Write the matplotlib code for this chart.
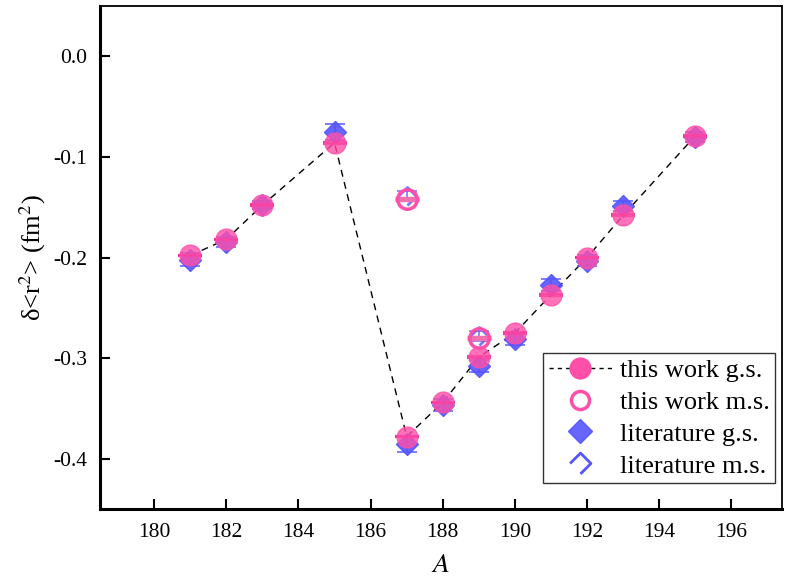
import numpy as np
import matplotlib.pyplot as plt
from matplotlib.path import Path

plt.rcParams['font.family'] = ['Liberation Serif', 'DejaVu Serif']
plt.rcParams['mathtext.fontset'] = 'stix'

# this work, ground states
A_gs = [181, 182, 183, 185, 187, 188, 189, 190, 191, 192, 193, 195]
tw_gs = [-0.198, -0.182, -0.148, -0.086, -0.378, -0.344, -0.299, -0.275, -0.237, -0.200, -0.158, -0.079]
tw_gs_err = [0.0008] * 12

# this work, metastable states
A_ms = [187, 189]
tw_ms = [-0.142, -0.280]
tw_ms_err = [0.0008, 0.0008]

# literature
lit_gs = [-0.202, -0.185, -0.148, -0.075, -0.385, -0.347, -0.308, -0.281, -0.227, -0.203, -0.149, -0.080]
lit_gs_err = [0.006, 0.005, 0.004, 0.008, 0.008, 0.006, 0.006, 0.006, 0.006, 0.005, 0.005, 0.005]
lit_ms = [-0.139, -0.278]
lit_ms_err = [0.005, 0.005]

pink = '#ff4fa8'
blue = '#5555ff'

# open diamond with one side missing (as in the legend)
half_diamond = Path([(-0.5, 0), (0, 0.5), (0.5, 0), (0, -0.5)],
                    [Path.MOVETO, Path.LINETO, Path.LINETO, Path.LINETO])

fig = plt.figure(figsize=(7.86, 5.82), dpi=100)
ax = fig.add_axes([0.1272, 0.1254, 0.8677, 0.8643])

ax.errorbar(A_gs, lit_gs, yerr=lit_gs_err, fmt='D', ms=11, color=blue, alpha=0.9,
            ecolor=blue, capsize=7, elinewidth=1.2, capthick=1.2, zorder=2)
ax.errorbar(A_ms, lit_ms, yerr=lit_ms_err, fmt='none',
            ecolor=blue, capsize=7, elinewidth=1.2, capthick=1.2, alpha=0.8, zorder=2)
ax.plot(A_ms, lit_ms, ls='none', marker=half_diamond, ms=13, mfc='none', mec=blue, mew=2,
        alpha=0.8, zorder=2)
ax.errorbar(A_gs, tw_gs, yerr=tw_gs_err, fmt='o', ms=15, color=pink, alpha=0.8,
            ecolor='#ee1188', capsize=8.5, elinewidth=1.5, capthick=1.6, zorder=3)
ax.plot(A_gs, tw_gs, '--', color='black', lw=1, dashes=(5, 4), zorder=1)
ax.errorbar(A_ms, tw_ms, yerr=tw_ms_err, fmt='o', ms=14, mfc='none', mec=pink, mew=2.5,
            ecolor='#f070b0', capsize=8.5, elinewidth=1.2, capthick=1.2, zorder=3)

# legend handles
h1, = ax.plot([], [], '--', color='black', lw=1, dashes=(3, 3), marker='o', ms=15,
              mfc=pink, mec=pink)
h2, = ax.plot([], [], 'o', ms=13, mfc='none', mec=pink, mew=2.5)
h3, = ax.plot([], [], 'D', ms=12, color=blue, alpha=0.9)
h4, = ax.plot([], [], ls='none', marker=half_diamond, ms=15, mfc='none', mec=blue, mew=2)
leg = ax.legend([h1, h2, h3, h4],
                ['this work g.s.', 'this work m.s.', 'literature g.s.', 'literature m.s.'],
                loc='lower right', bbox_to_anchor=(0.990, 0.052), fontsize=19, frameon=True,
                fancybox=False, edgecolor='#333333', framealpha=1, borderpad=0.2,
                handlelength=2.4, handletextpad=0.3, labelspacing=0.32, borderaxespad=0)
leg.get_frame().set_linewidth(1)

ax.set_xlim(178.5, 197.4)
ax.set_ylim(-0.45, 0.05)
ax.set_xticks(np.arange(180, 197, 2))
ax.set_yticks([0.0, -0.1, -0.2, -0.3, -0.4])
ax.set_yticklabels(['0.0', '-0.1', '-0.2', '-0.3', '-0.4'])
ax.tick_params(direction='in', length=7, width=1.5, labelsize=15.5, pad=9)
ax.tick_params(axis='x', pad=10)
for s in ['left', 'bottom']:
    ax.spines[s].set_linewidth(2.2)
for s in ['top', 'right']:
    ax.spines[s].set_linewidth(1.3)

ax.set_xlabel('$A$', fontsize=20, labelpad=8)
ax.set_ylabel('δ<r$^{2}$> (fm$^{2}$)', fontsize=19, labelpad=4)

fig.savefig('out.png', dpi=100)
